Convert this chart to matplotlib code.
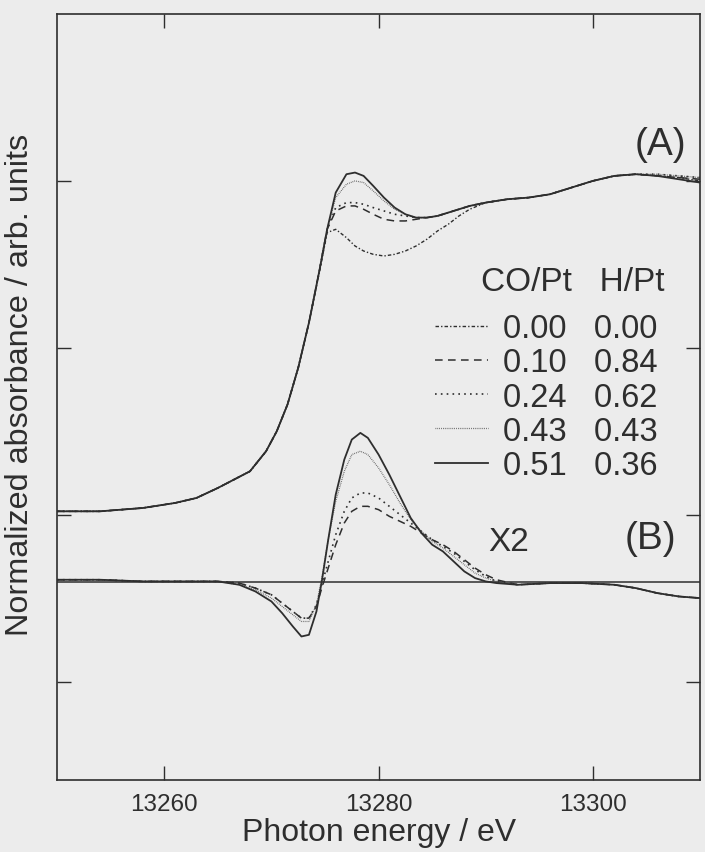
import numpy as np
import matplotlib
matplotlib.use("Agg")
import matplotlib.pyplot as plt

plt.rcParams["font.family"] = ["Liberation Sans", "DejaVu Sans"]

# (A) normalized XANES, energy grid shared by all five samples
energy_a = [13250, 13254, 13258, 13261, 13263, 13265, 13266.5, 13268, 13269.5,
            13270.5, 13271.5, 13272.5, 13273.5, 13274.5, 13275.2, 13276, 13277,
            13277.8, 13278.6, 13279.5, 13280.5, 13281.5, 13282.5, 13283.5,
            13284.5, 13285.5, 13286.5, 13287.5, 13288.5, 13290, 13292, 13294,
            13296, 13298, 13300, 13302, 13304, 13306, 13308, 13310]

edge = [1.02, 1.02, 1.04, 1.07, 1.10, 1.16, 1.21, 1.26, 1.38, 1.50, 1.66, 1.88,
        2.15, 2.47]
tail = [2.90, 2.92, 2.96, 3.00, 3.03, 3.04]

abs_000 = edge[:-1] + [2.46, 2.69, 2.71, 2.66, 2.61, 2.58, 2.56, 2.55, 2.56, 2.58,
                       2.61, 2.65, 2.70, 2.74, 2.79, 2.83, 2.87, 2.89] + tail + [3.03, 3.02, 3.00]
abs_010 = edge + [2.71, 2.82, 2.85, 2.85, 2.83, 2.80, 2.77, 2.76, 2.76, 2.77,
                  2.78, 2.79, 2.81, 2.83, 2.85, 2.87, 2.89] + tail + [3.03, 3.02, 3.01]
abs_024 = edge + [2.71, 2.84, 2.87, 2.87, 2.86, 2.84, 2.82, 2.80, 2.79, 2.78,
                  2.78, 2.79, 2.81, 2.83, 2.85, 2.87, 2.89] + tail + [3.04, 3.03, 3.02]
abs_043 = edge + [2.71, 2.90, 2.98, 3.00, 2.99, 2.94, 2.88, 2.83, 2.80, 2.78,
                  2.78, 2.79, 2.81, 2.83, 2.85, 2.87, 2.89] + tail + [3.04, 3.03, 3.02]
abs_051 = edge + [2.71, 2.93, 3.04, 3.05, 3.03, 2.97, 2.90, 2.84, 2.80, 2.78,
                  2.78, 2.79, 2.81, 2.83, 2.85, 2.87, 2.89] + tail + [3.03, 3.01, 2.99]

# (B) difference spectra (x2), offset baseline
energy_b = [13250, 13254, 13258, 13262, 13265, 13267, 13268.5, 13270, 13271,
            13272, 13272.8, 13273.5, 13274.2, 13274.7, 13275.3, 13276, 13276.8,
            13277.5, 13278.3, 13279, 13280, 13281, 13282, 13283, 13284, 13285,
            13286, 13287, 13288, 13289, 13290, 13291, 13293, 13296, 13299,
            13302, 13304, 13306, 13308, 13310]
baseline_b = 0.595

pre_b = [0.61, 0.61, 0.60, 0.60, 0.60]
post_b = [0.58, 0.59, 0.59, 0.58, 0.56, 0.53, 0.51, 0.50]
diff_010 = pre_b + [0.59, 0.56, 0.52, 0.47, 0.42, 0.38, 0.38, 0.45, 0.56, 0.68,
                    0.82, 0.95, 1.02, 1.05, 1.05, 1.03, 0.99, 0.96, 0.93, 0.89,
                    0.85, 0.82, 0.78, 0.73, 0.68, 0.64, 0.61] + post_b
diff_024 = pre_b + [0.59, 0.56, 0.52, 0.47, 0.42, 0.38, 0.38, 0.46, 0.58, 0.72,
                    0.88, 1.02, 1.10, 1.13, 1.13, 1.10, 1.05, 1.00, 0.95, 0.90,
                    0.85, 0.81, 0.77, 0.72, 0.67, 0.63, 0.60] + post_b
diff_043 = pre_b + [0.58, 0.55, 0.50, 0.45, 0.40, 0.36, 0.36, 0.46, 0.62, 0.85,
                    1.08, 1.26, 1.36, 1.38, 1.36, 1.28, 1.18, 1.07, 0.97, 0.90,
                    0.84, 0.80, 0.75, 0.70, 0.65, 0.62, 0.60] + post_b
diff_051 = pre_b + [0.58, 0.54, 0.48, 0.41, 0.33, 0.27, 0.28, 0.42, 0.60, 0.85,
                    1.12, 1.33, 1.45, 1.49, 1.46, 1.36, 1.24, 1.11, 0.98, 0.89,
                    0.82, 0.78, 0.72, 0.66, 0.62, 0.60, 0.59] + post_b

co_pt = [0.00, 0.10, 0.24, 0.43, 0.51]
h_pt = [0.00, 0.84, 0.62, 0.43, 0.36]

ink = "#2e2e2e"
styles = [
    dict(ls=(0, (2.5, 1.5, 1, 1.5)), lw=1.0, color=ink),
    dict(ls=(0, (5, 3.5)), lw=1.1, color=ink),
    dict(ls=(0, (1, 2.5)), lw=1.2, color=ink),
    dict(ls=(0, (0.6, 0.9)), lw=0.9, color="#555555"),
    dict(ls="-", lw=1.3, color=ink),
]

fig = plt.figure(figsize=(7.05, 8.53), dpi=100, facecolor="#ececec")
ax = fig.add_axes([0.081, 0.0844, 0.912, 0.898], facecolor="#ececec")

curves_a = [abs_000, abs_010, abs_024, abs_043, abs_051]
handles = []
for y, st in zip(curves_a, styles):
    h, = ax.plot(energy_a, y, **st)
    handles.append(h)

ax.axhline(baseline_b, color=ink, lw=1.1)
for y, st in zip([diff_010, diff_024, diff_043, diff_051], styles[1:]):
    ax.plot(energy_b, y, **st)

ax.set_xlim(13250, 13310)
ax.set_ylim(-0.59, 4.0)
ax.set_xticks([13260, 13280, 13300])
ax.set_yticks([0, 1, 2, 3])
ax.set_yticklabels([])
ax.tick_params(direction="in", length=10, width=1.0, top=True, right=True,
               labelsize=17.5, colors=ink, pad=9)
for s in ax.spines.values():
    s.set_color(ink)
    s.set_linewidth(1.2)

ax.set_xlabel("Photon energy / eV", fontsize=23, color=ink, labelpad=2)
ax.set_ylabel("Normalized absorbance / arb. units", fontsize=23.3, color=ink)
ax.yaxis.set_label_coords(-0.035, 0.517)

ax.text(13306.3, 3.22, "(A)", fontsize=28, ha="center", va="center", color=ink)
ax.text(13305.4, 0.86, "(B)", fontsize=28, ha="center", va="center", color=ink)
ax.text(13292.1, 0.84, "X2", fontsize=24, ha="center", va="center", color=ink)
ax.text(13289.6, 2.40, "CO/Pt   H/Pt", fontsize=24, ha="left", va="center",
        color=ink)

labels = [f"{c:.2f}   {h:.2f}" for c, h in zip(co_pt, h_pt)]
ax.legend(handles, labels, loc="upper left", bbox_to_anchor=(0.588, 0.6097),
          frameon=False, fontsize=23.5, handlelength=1.63, handletextpad=0.46,
          labelspacing=0.1, borderpad=0, borderaxespad=0, labelcolor=ink)

fig.savefig("out.png", dpi=100, facecolor=fig.get_facecolor())
